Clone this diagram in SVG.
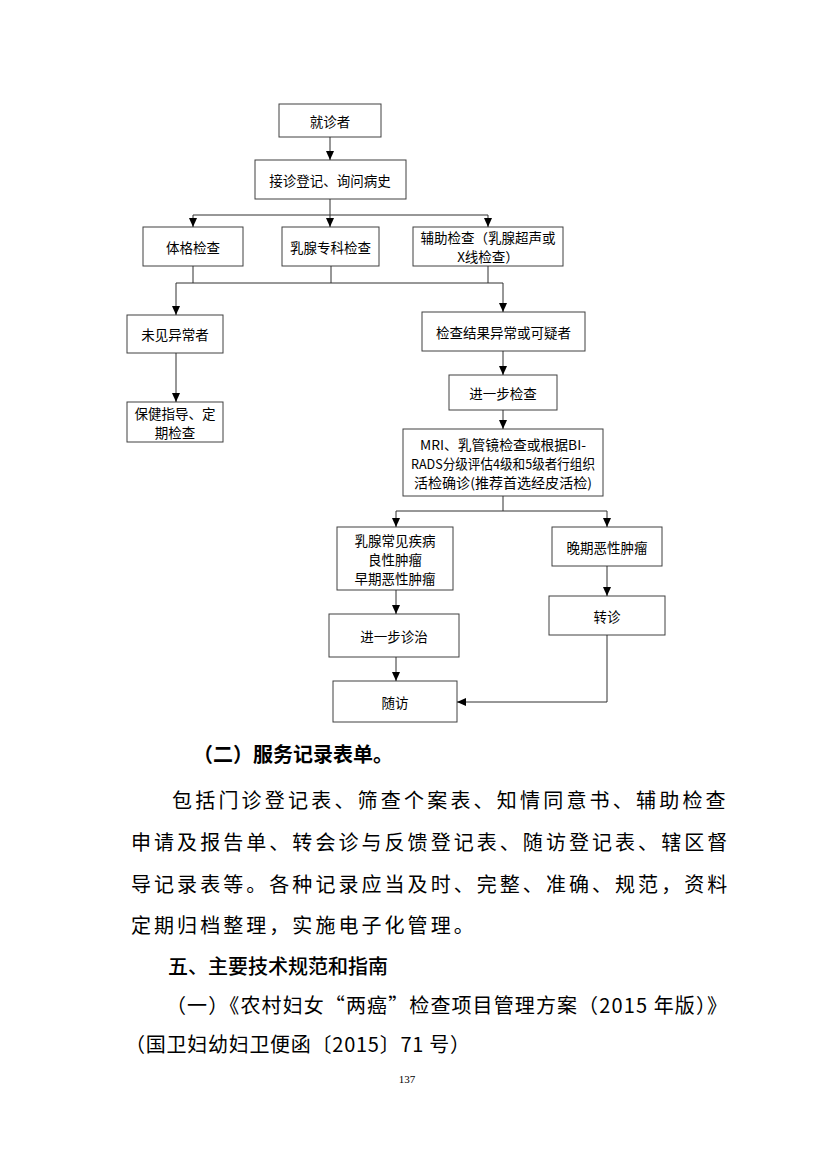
<svg xmlns="http://www.w3.org/2000/svg" width="827" height="1170" viewBox="0 0 827 1170">
<defs>
<marker id="arr" markerUnits="userSpaceOnUse" markerWidth="9" markerHeight="8" refX="9" refY="4" orient="auto">
<path d="M0,0 L9,4 L0,8 z" fill="#000"/>
</marker>
<style>
.box{fill:#fff;stroke:#404040;stroke-width:1}
.bt{font-family:"Noto Sans CJK SC","Liberation Sans",sans-serif;font-size:13.5px;fill:#000;text-anchor:middle;dominant-baseline:central}
.ln{fill:none;stroke:#303030;stroke-width:1}
.ar{fill:none;stroke:#303030;stroke-width:1;marker-end:url(#arr)}
.body{font-family:"Noto Sans CJK SC","Liberation Sans",sans-serif;font-size:20px;fill:#000;dominant-baseline:central}
</style>
</defs>
<rect width="827" height="1170" fill="#fff"/>

<g id="n1"><rect class="box" x="279" y="104" width="102" height="33"/><text class="bt" x="330" y="120.5">就诊者</text></g>
<g id="n2"><rect class="box" x="255" y="160" width="151" height="39"/><text class="bt" x="330" y="179.5">接诊登记、询问病史</text></g>
<g id="n3"><rect class="box" x="143" y="227" width="100" height="39"/><text class="bt" x="193" y="246.5">体格检查</text></g>
<g id="n4"><rect class="box" x="282" y="227" width="97" height="39"/><text class="bt" x="330.5" y="246.5">乳腺专科检查</text></g>
<g id="n5"><rect class="box" x="413" y="227" width="150" height="39"/><text class="bt" x="488" y="237">辅助检查（乳腺超声或</text><text class="bt" x="488" y="256">X线检查）</text></g>
<g id="n6"><rect class="box" x="127" y="315" width="96" height="38"/><text class="bt" x="175" y="334">未见异常者</text></g>
<g id="n7"><rect class="box" x="127" y="402" width="96" height="40"/><text class="bt" x="175" y="412.5">保健指导、定</text><text class="bt" x="175" y="431.5">期检查</text></g>
<g id="n8"><rect class="box" x="422" y="312" width="163" height="39"/><text class="bt" x="503.5" y="331.5">检查结果异常或可疑者</text></g>
<g id="n9"><rect class="box" x="449" y="375" width="108" height="35"/><text class="bt" x="503" y="392.5">进一步检查</text></g>
<g id="n10"><rect class="box" x="403" y="429" width="200" height="67"/>
<text class="bt" x="503" y="443.5" textLength="166" lengthAdjust="spacingAndGlyphs">MRI、乳管镜检查或根据BI-</text>
<text class="bt" x="503" y="462.5" textLength="184" lengthAdjust="spacingAndGlyphs">RADS分级评估4级和5级者行组织</text>
<text class="bt" x="503" y="481.5" textLength="178" lengthAdjust="spacingAndGlyphs">活检确诊(推荐首选经皮活检)</text></g>
<g id="n11"><rect class="box" x="337" y="527" width="116" height="63"/><text class="bt" x="395" y="539.5">乳腺常见疾病</text><text class="bt" x="395" y="558.5">良性肿瘤</text><text class="bt" x="395" y="577.5">早期恶性肿瘤</text></g>
<g id="n12"><rect class="box" x="552" y="527" width="110" height="39"/><text class="bt" x="607" y="546.5">晚期恶性肿瘤</text></g>
<g id="n13"><rect class="box" x="549" y="596" width="116" height="39"/><text class="bt" x="607" y="615.5">转诊</text></g>
<g id="n14"><rect class="box" x="329" y="614" width="130" height="43"/><text class="bt" x="394" y="635.5">进一步诊治</text></g>
<g id="n15"><rect class="box" x="333" y="681" width="124" height="41"/><text class="bt" x="395" y="701.5">随访</text></g>

<g id="connectors">
<path class="ar" d="M330,137 V160"/>
<path class="ln" d="M330,199 V215 M193,215 H488"/>
<path class="ar" d="M193,215 V227"/>
<path class="ar" d="M330,215 V227"/>
<path class="ar" d="M488,215 V227"/>
<path class="ln" d="M193,266 V283 M331,266 V283 M488,266 V283 M176,283 H503"/>
<path class="ar" d="M176,283 V315"/>
<path class="ar" d="M503,283 V312"/>
<path class="ar" d="M176,353 V402"/>
<path class="ar" d="M503,351 V375"/>
<path class="ar" d="M503,410 V429"/>
<path class="ln" d="M503,496 V511 M396,511 H607"/>
<path class="ar" d="M396,511 V527"/>
<path class="ar" d="M607,511 V527"/>
<path class="ar" d="M396,590 V614"/>
<path class="ar" d="M607,566 V596"/>
<path class="ar" d="M396,657 V681"/>
<path class="ar" d="M607,635 V702 H457"/>
</g>

<g id="text">
<text class="body" x="193" y="753" font-weight="bold">（二）服务记录表单。</text>
<text class="body" x="172" y="799" letter-spacing="3.2">包括门诊登记表、筛查个案表、知情同意书、辅助检查</text>
<text class="body" x="131" y="841" letter-spacing="3.05">申请及报告单、转会诊与反馈登记表、随访登记表、辖区督</text>
<text class="body" x="131" y="883" letter-spacing="3.05">导记录表等。各种记录应当及时、完整、准确、规范，资料</text>
<text class="body" x="131" y="924" letter-spacing="3.05">定期归档整理，实施电子化管理。</text>
<text class="body" x="168" y="965" font-size="19.5" font-weight="500">五、主要技术规范和指南</text>
<text class="body" x="166" y="1004" textLength="561" lengthAdjust="spacing">（一）《农村妇女“两癌”检查项目管理方案（2015 年版）》</text>
<text class="body" x="125" y="1043" textLength="345" lengthAdjust="spacing">（国卫妇幼妇卫便函〔2015〕71 号）</text>
<text x="407" y="1083" font-family="Liberation Serif, serif" font-size="11" text-anchor="middle" fill="#000">137</text>
</g>
</svg>
